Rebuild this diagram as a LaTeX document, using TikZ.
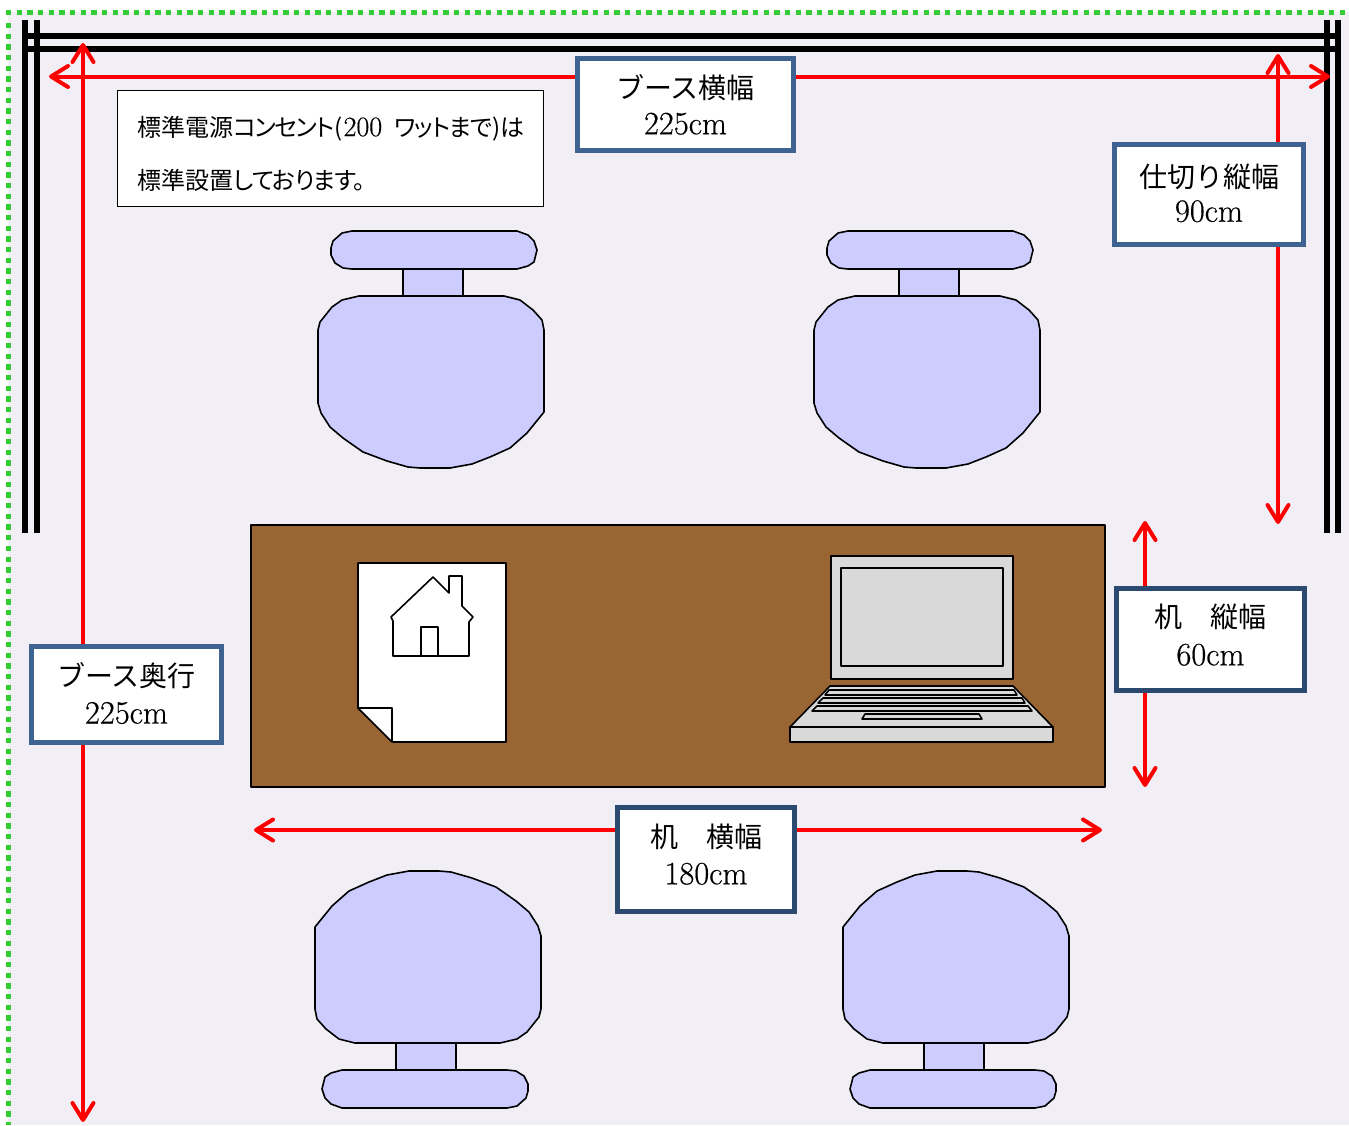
\documentclass[tikz,border=0pt]{standalone}
\usepackage{fontspec}
\usepackage{amsmath}
\usetikzlibrary{arrows.meta}
\newfontfamily\cjk[RawFeature=+palt]{Noto Sans CJK JP}
\newfontfamily\cjkf{Noto Sans CJK JP}
\newfontfamily\numf[FakeBold=0.5]{Latin Modern Roman}
\definecolor{floorbg}{HTML}{F1EFF5}
\definecolor{dotgreen}{HTML}{33CC33}
\definecolor{boxblue}{HTML}{3F6391}
\definecolor{boxdark}{HTML}{2C4A70}
\definecolor{chairblue}{HTML}{CCCCFF}
\definecolor{deskbrown}{HTML}{996633}
\definecolor{pcgrey}{HTML}{D9D9D9}
\newcommand{\jplabel}[1]{{\cjkf\fontsize{28}{36}\selectfont #1}}
\tikzset{
  wall/.style={line width=6pt},
  dimarrow/.style={red,line width=4pt,{Straight Barb[length=17pt,width=21pt,round]}-{Straight Barb[length=17pt,width=21pt,round]}},
  dimbox/.style={draw=boxblue,line width=5pt,fill=white,align=center,inner sep=0pt,
    font=\numf\fontsize{32.5}{36}\selectfont},
  part/.style={draw=black,line width=1.6pt,line join=round},
  chair/.pic={
    \begin{scope}[shift={(-318,-296)}]
      \draw[part,fill=chairblue] (403,269) rectangle (463,296);
      \draw[part,fill=chairblue] (352,231) -- (517,231) -- (528,235) -- (534,241) -- (537,250)
        -- (534,262) -- (528,266) -- (517,269) -- (352,269) -- (343,268) -- (335,263) -- (331,255)
        -- (331,248) -- (333,241) -- (342,233) -- cycle;
      \draw[part,fill=chairblue] (359,296) -- (342,300) -- (332,307) -- (320,322) -- (318,330)
        -- (318,403) -- (321,413) -- (330,427) -- (343,438) -- (363,452) -- (387,461)
        -- (408,467) -- (420,468) -- (450,468) -- (472,464) -- (490,457) -- (510,448)
        -- (527,433) -- (544,412) -- (544,330) -- (542,320) -- (533,310) -- (520,300)
        -- (504,296) -- cycle;
    \end{scope}
  }
}
\begin{document}
\begin{tikzpicture}
  [x=1pt,y=-1pt]
  \useasboundingbox (0,0) rectangle (1349,1125);
  \fill[floorbg] (8,12) rectangle (1349,1125);
  \draw[dotgreen,line width=5pt,dash pattern=on 5.33pt off 5.34pt] (6,12.5) -- (1349,12.5);
  \draw[dotgreen,line width=5pt,dash pattern=on 5.33pt off 5.34pt] (8.5,23) -- (8.5,1125);

  % partition
  \draw[wall] (22,36) -- (1340,36);
  \draw[wall] (22,49) -- (1340,49);
  \foreach \x in {25,37,1327,1337.5}
    \draw[wall] (\x,20) -- (\x,533);

  % desk, paper, laptop
  \draw[part,fill=deskbrown] (251,525) rectangle (1105,787);
  \draw[part,fill=white] (358,563) -- (506,563) -- (506,742) -- (393,742) -- (358,708) -- cycle;
  \draw[part,fill=white] (358,708) -- (392,708) -- (392,742) -- cycle;
  \draw[part] (391,617) -- (433,577) -- (449,593) -- (449,576) -- (462,576) -- (462,606)
    -- (473,617) -- (469,622) -- (469,656) -- (393,656) -- (393,621) -- cycle;
  \draw[part] (421,656) -- (421,627) -- (438,627) -- (438,656);
  \draw[part,fill=pcgrey] (831,556) rectangle (1013,679);
  \draw[part,fill=pcgrey] (841,568) rectangle (1003,666);
  \draw[part,fill=pcgrey] (830,686) -- (1013,686) -- (1053,727) -- (790,727) -- cycle;
  \draw[part,fill=pcgrey] (790,727) rectangle (1053,742);
  \draw[part] (829,690) -- (1014,690) -- (1017,695) -- (825,695) -- cycle;
  \draw[part] (823,698) -- (1022,698) -- (1025,703) -- (818,703) -- cycle;
  \draw[part] (817,706) -- (1028,706) -- (1032,711) -- (812,711) -- cycle;
  \draw[part] (865,714) -- (979,714) -- (982,719) -- (862,719) -- cycle;

  % chairs
  \pic at (318,296) {chair};
  \pic at (814,296) {chair};
  \pic[rotate=180] at (541,1043) {chair};
  \pic[rotate=180] at (1069,1043) {chair};

  % arrows
  \coordinate (wl) at (49,76.5);
  \coordinate (wr) at (1330,76.5);
  \coordinate (dt) at (83,43);
  \coordinate (db) at (83,1122);
  \coordinate (pt) at (1278,54);
  \coordinate (pb) at (1278,524);
  \coordinate (ht) at (1145,521);
  \coordinate (hb) at (1145,787);
  \coordinate (fl) at (254,830);
  \coordinate (fr) at (1102,830);
  \foreach \from/\to in {wl/wr, dt/db, pt/pb, ht/hb, fl/fr}
    \draw[dimarrow] (\from) -- (\to);

  % labels
  \node[draw=black,line width=1pt,fill=white,inner sep=0pt,minimum width=426pt,minimum height=116pt,
    align=left,text width=386pt,font=\fontsize{24}{53}\selectfont] (note) at (330.5,148.5)
    {\mbox{}\\[-23pt]\mbox{{\cjk 標準電源{\addfontfeature{LetterSpace=-6}コンセント}(\hspace{1pt}}{\numf\fontsize{28}{53}\selectfont 200}\hspace{12pt}{\cjk\addfontfeature{LetterSpace=-5}ワットまで}{\cjk )は}}\\{\cjk 標準設置{\addfontfeature{LetterSpace=-4}しております。}}};
  \node[dimbox,minimum width=216pt,minimum height=92pt] (boothw) at (685.5,104.5)
    {\jplabel{ブース横幅}\\225cm};
  \node[dimbox,minimum width=189pt,minimum height=100pt] (partd) at (1209,194.5)
    {\jplabel{仕切り縦幅}\\[-2pt]90cm\\[-33pt]\mbox{}};
  \node[dimbox,draw=boxdark,minimum width=188pt,minimum height=102pt] (deskd) at (1210.5,639.5)
    {\jplabel{机　縦幅}\\[2pt]60cm\\[-26pt]\mbox{}};
  \node[dimbox,draw=boxdark,minimum width=177pt,minimum height=104pt] (deskw) at (706,859)
    {\jplabel{机　横幅}\\[1pt]180cm\\[-26pt]\mbox{}};
  \node[dimbox,minimum width=190pt,minimum height=96pt] (boothd) at (126.5,694.5)
    {\jplabel{ブース奥行}\\[1pt]225cm\\[-33pt]\mbox{}};
\end{tikzpicture}
\end{document}
